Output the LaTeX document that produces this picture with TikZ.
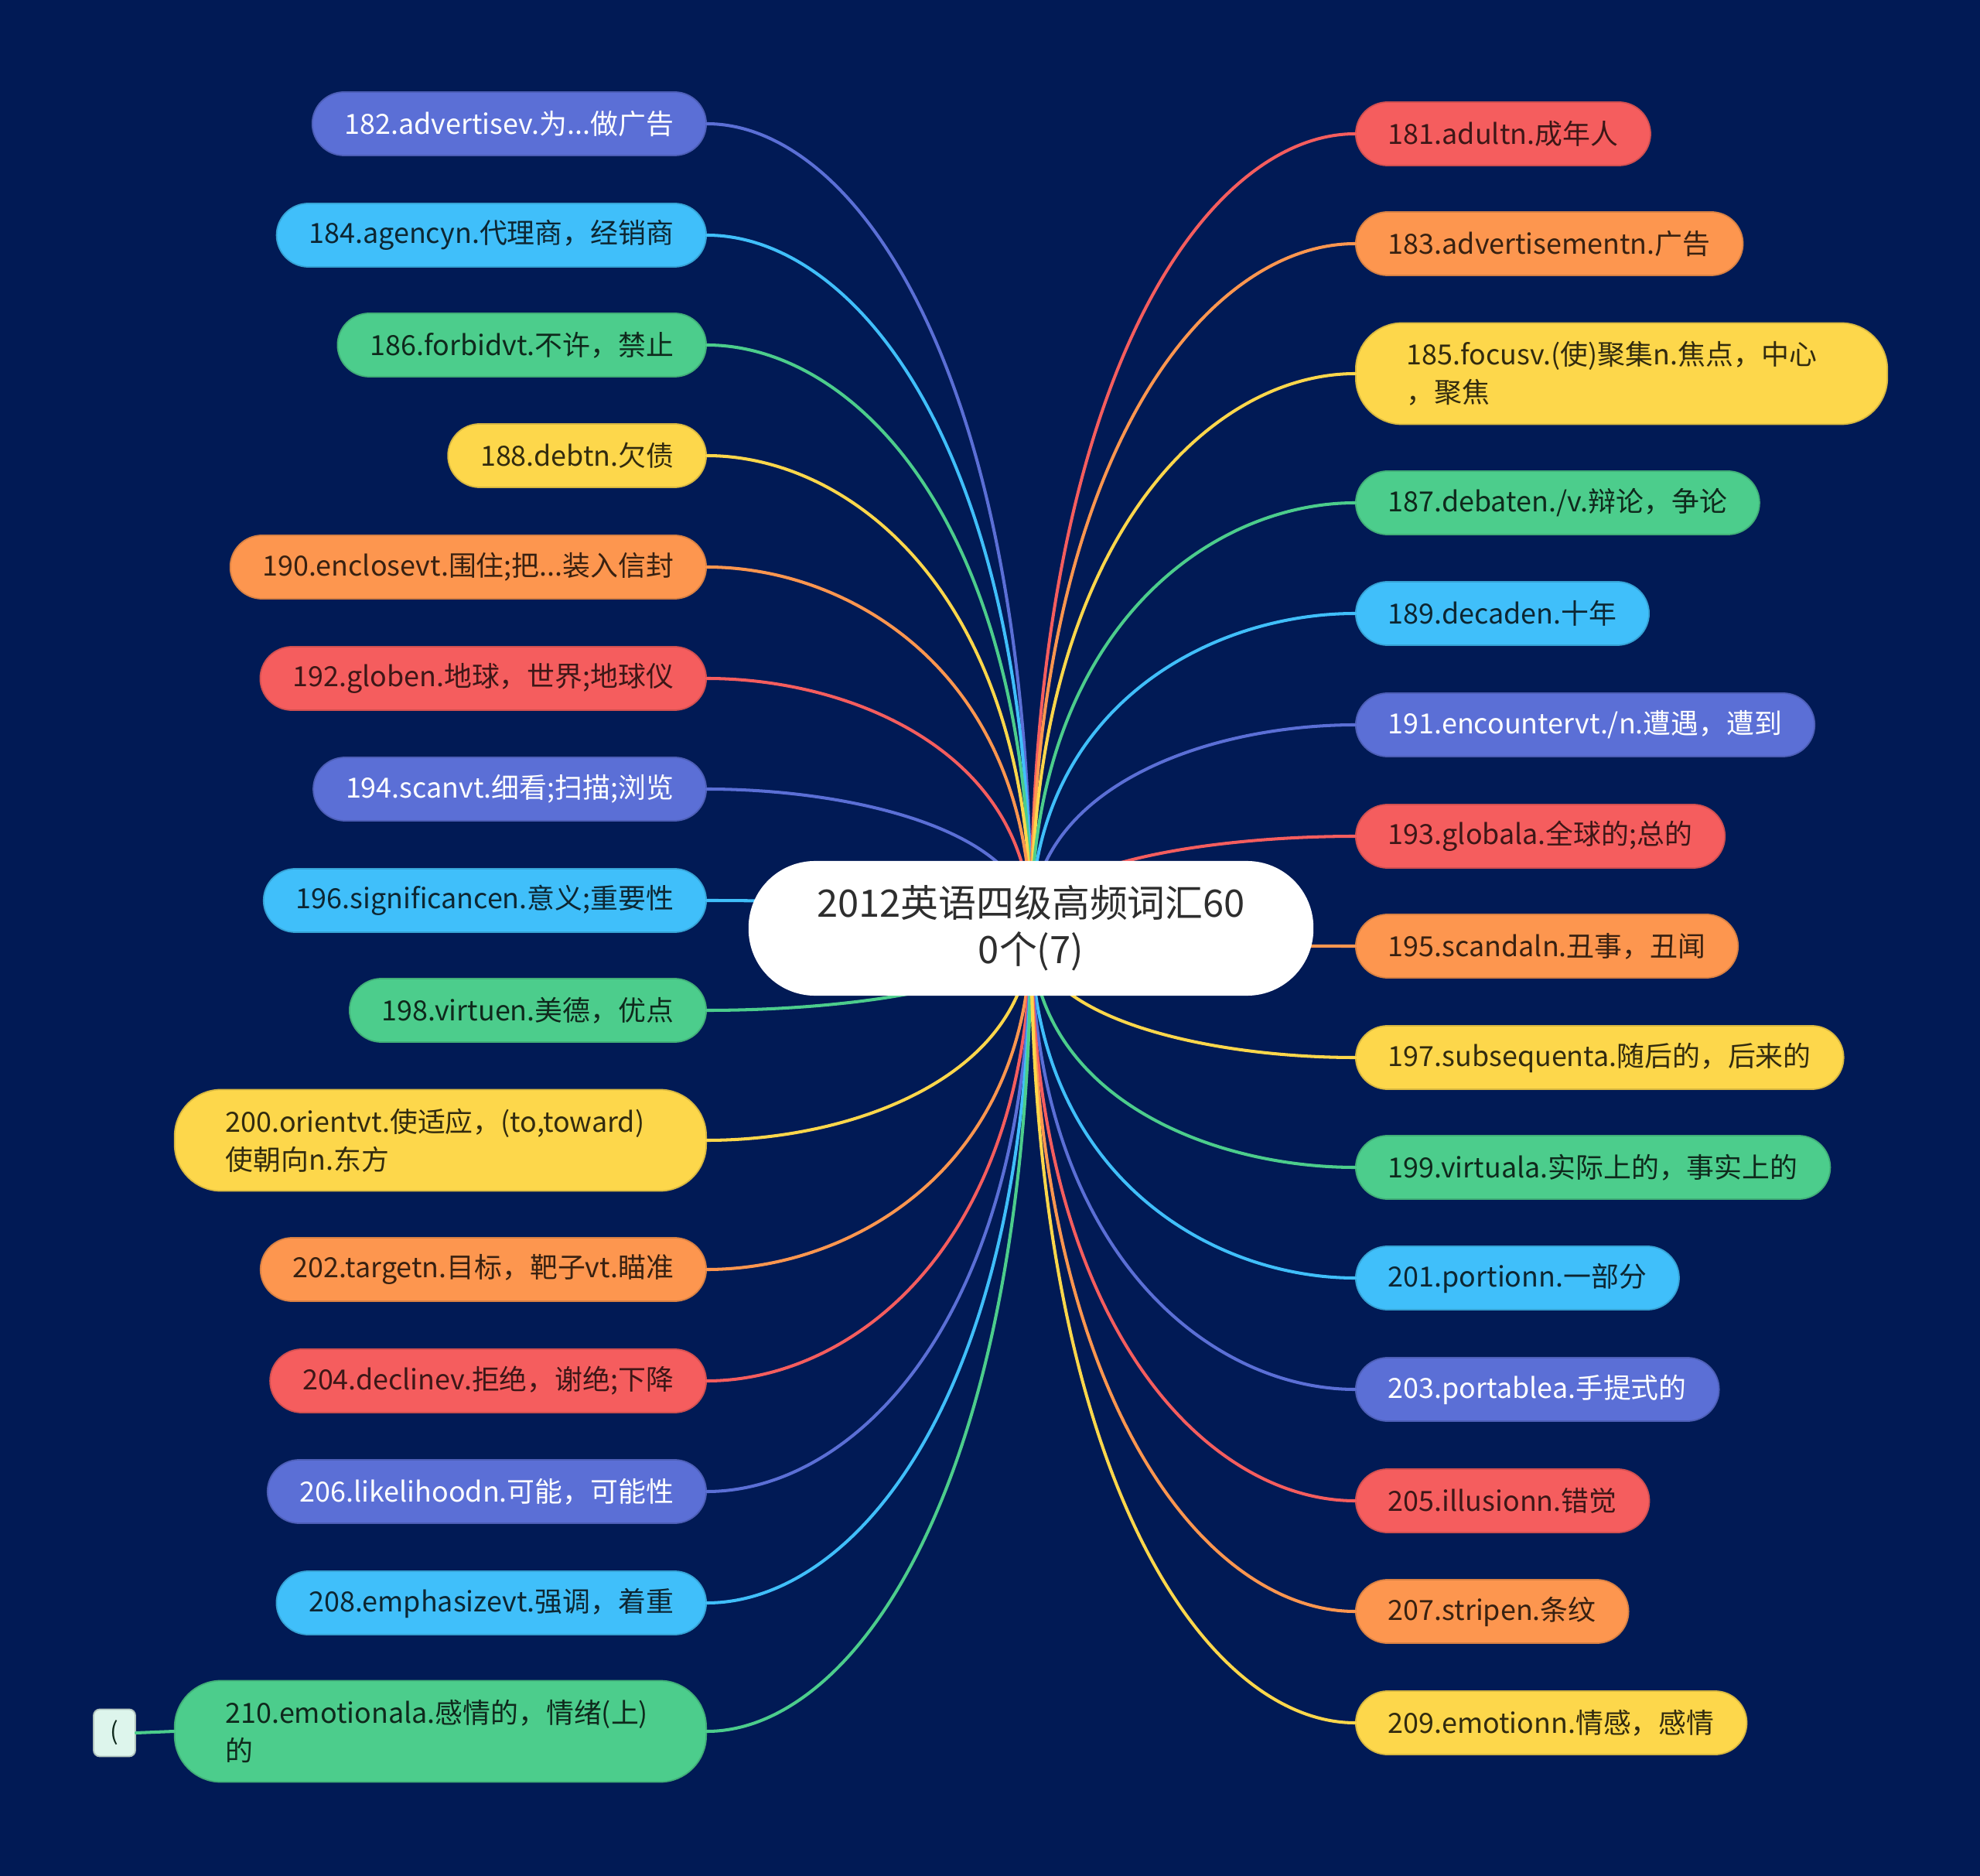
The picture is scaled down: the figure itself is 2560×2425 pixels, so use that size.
\documentclass[tikz,border=0pt]{standalone}
\usepackage{fontspec}
\setmainfont{Noto Sans CJK SC}
\usepackage{tikz}
\usetikzlibrary{calc}
\usepackage{xcolor}

\definecolor{bgNavy}{HTML}{011A55}
\definecolor{cPurple}{HTML}{5B6FD6}
\definecolor{cBlue}{HTML}{40BFFA}
\definecolor{cGreen}{HTML}{4CCD8C}
\definecolor{cYellow}{HTML}{FDD74B}
\definecolor{cOrange}{HTML}{FD964F}
\definecolor{cRed}{HTML}{F55D5E}
\definecolor{cMint}{HTML}{DDF5EC}

\tikzset{
  leaf/.style={rounded corners=0.41cm,minimum height=0.82cm,inner xsep=0.42cm,inner ysep=0pt,
    line width=0.5pt,font=\fontsize{10.2}{14}\selectfont},
  twoline/.style={leaf,rounded corners=0.6cm,minimum height=1.31cm,text width=5.55cm,
    align=left,inner xsep=0.66cm},
  cp/.style={fill=cPurple,draw=cPurple!85!black,text=white},
  cb/.style={fill=cBlue,draw=cBlue!85!black,text=cBlue!20!black},
  cg/.style={fill=cGreen,draw=cGreen!85!black,text=cGreen!20!black},
  cy/.style={fill=cYellow,draw=cYellow!85!black,text=cYellow!20!black},
  co/.style={fill=cOrange,draw=cOrange!85!black,text=cOrange!22!black},
  cr/.style={fill=cRed,draw=cRed!85!black,text=cRed!25!black},
  link/.style={line width=1.15pt},
}

\begin{document}
\begin{tikzpicture}[x=0.01cm,y=-0.01cm,line cap=round]
  % background
  \fill[bgNavy] (0,0) rectangle (2560,2425);
  \coordinate (hub) at (1333,1200);

  % --- left branches ---
  \node[leaf,cp,anchor=east] (n182) at (914,160)  {182.advertisev.为...做广告};
  \node[leaf,cb,anchor=east] (n184) at (914,304)  {184.agencyn.代理商，经销商};
  \node[leaf,cg,anchor=east] (n186) at (914,446)  {186.forbidvt.不许，禁止};
  \node[leaf,cy,anchor=east] (n188) at (914,589)  {188.debtn.欠债};
  \node[leaf,co,anchor=east] (n190) at (914,733)  {190.enclosevt.围住;把...装入信封};
  \node[leaf,cr,anchor=east] (n192) at (914,877)  {192.globen.地球，世界;地球仪};
  \node[leaf,cp,anchor=east] (n194) at (914,1020) {194.scanvt.细看;扫描;浏览};
  \node[leaf,cb,anchor=east] (n196) at (914,1164) {196.significancen.意义;重要性};
  \node[leaf,cg,anchor=east] (n198) at (914,1306) {198.virtuen.美德，优点};
  \node[twoline,cy,anchor=east] (n200) at (914,1474) {200.orientvt.使适应，(to,toward)\\使朝向n.东方};
  \node[leaf,co,anchor=east] (n202) at (914,1641) {202.targetn.目标，靶子vt.瞄准};
  \node[leaf,cr,anchor=east] (n204) at (914,1785) {204.declinev.拒绝，谢绝;下降};
  \node[leaf,cp,anchor=east] (n206) at (914,1928) {206.likelihoodn.可能，可能性};
  \node[leaf,cb,anchor=east] (n208) at (914,2072) {208.emphasizevt.强调，着重};
  \node[twoline,cg,anchor=east] (n210) at (914,2238) {210.emotionala.感情的，情绪(上)\\的};

  % small tag left of 210
  \node[fill=cMint,draw=cMint!80!black,line width=0.5pt,rounded corners=0.08cm,
    minimum width=0.54cm,minimum height=0.61cm,inner sep=0pt,text=cGreen!20!black,
    font=\fontsize{9}{11}\selectfont] (t210) at (148,2240) {(};
  \draw[link,cGreen] (n210.west) -- (t210.east);

  % --- right branches ---
  \node[leaf,cr,anchor=west] (n181) at (1752,173)  {181.adultn.成年人};
  \node[leaf,co,anchor=west] (n183) at (1752,315)  {183.advertisementn.广告};
  \node[twoline,cy,anchor=west] (n185) at (1752,483) {185.focusv.(使)聚集n.焦点，中心\\，聚焦};
  \node[leaf,cg,anchor=west] (n187) at (1752,650)  {187.debaten./v.辩论，争论};
  \node[leaf,cb,anchor=west] (n189) at (1752,793)  {189.decaden.十年};
  \node[leaf,cp,anchor=west] (n191) at (1752,937)  {191.encountervt./n.遭遇，遭到};
  \node[leaf,cr,anchor=west] (n193) at (1752,1081) {193.globala.全球的;总的};
  \node[leaf,co,anchor=west] (n195) at (1752,1223) {195.scandaln.丑事，丑闻};
  \node[leaf,cy,anchor=west] (n197) at (1752,1367) {197.subsequenta.随后的，后来的};
  \node[leaf,cg,anchor=west] (n199) at (1752,1509) {199.virtuala.实际上的，事实上的};
  \node[leaf,cb,anchor=west] (n201) at (1752,1652) {201.portionn.一部分};
  \node[leaf,cp,anchor=west] (n203) at (1752,1796) {203.portablea.手提式的};
  \node[leaf,cr,anchor=west] (n205) at (1752,1940) {205.illusionn.错觉};
  \node[leaf,co,anchor=west] (n207) at (1752,2083) {207.stripen.条纹};
  \node[leaf,cy,anchor=west] (n209) at (1752,2227) {209.emotionn.情感，感情};

  % connectors from the hub
  \foreach \n/\c in {n182/cPurple,n184/cBlue,n186/cGreen,n188/cYellow,n190/cOrange,
      n192/cRed,n194/cPurple,n196/cBlue,n198/cGreen,n200/cYellow,n202/cOrange,
      n204/cRed,n206/cPurple,n208/cBlue,n210/cGreen}
    \draw[link,draw=\c] (hub) .. controls ($(hub)!0.7!(hub|-\n.east)$)
      and ($(\n.east)!0.45!(\n.east-|hub)$) .. (\n.east);
  \foreach \n/\c in {n181/cRed,n183/cOrange,n185/cYellow,n187/cGreen,n189/cBlue,
      n191/cPurple,n193/cRed,n195/cOrange,n197/cYellow,n199/cGreen,n201/cBlue,
      n203/cPurple,n205/cRed,n207/cOrange,n209/cYellow}
    \draw[link,draw=\c] (hub) .. controls ($(hub)!0.7!(hub|-\n.west)$)
      and ($(\n.west)!0.45!(\n.west-|hub)$) .. (\n.west);

  % --- central topic ---
  \node[fill=white,rounded corners=0.86cm,minimum width=7.3cm,minimum height=1.74cm,
    align=center,text=black!82,font=\fontsize{13.9}{17}\selectfont] (root) at (hub)
    {2012英语四级高频词汇60\\0个(7)};
\end{tikzpicture}
\end{document}
